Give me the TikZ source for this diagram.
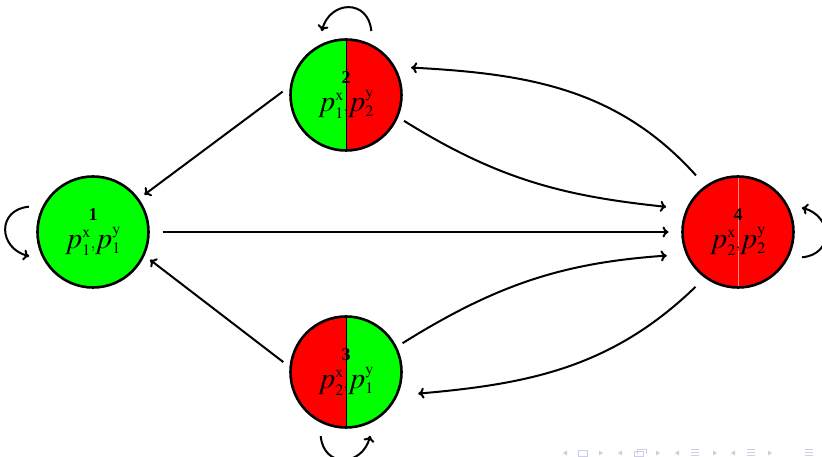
\documentclass[tikz,border=0pt]{standalone}
\usepackage{mathptmx}
\usepackage[no-math]{fontspec}
\setmainfont{Liberation Serif}
\DeclareMathSizes{30}{30}{16}{11}
\usetikzlibrary{arrows.meta}

\definecolor{stategreen}{RGB}{0,255,0}
\definecolor{statered}{RGB}{255,0,0}
\definecolor{navblue}{RGB}{205,205,232}

\begin{document}
\begin{tikzpicture}[x=1pt, y=1pt]
    \tikzset{
        statestyle/.style={circle, draw, line width=2.6pt, minimum size=111pt,
            inner sep=0pt, outer sep=8pt, align=center, font=\fontsize{30}{32}\selectfont},
        halfnode/.style n args={3}{path picture={
            \fill[#1] (path picture bounding box.south west) rectangle (path picture bounding box.north);
            \fill[#2] (path picture bounding box.south) rectangle (path picture bounding box.north east);
            \draw[#3, line width=0.6pt] (path picture bounding box.south) -- (path picture bounding box.north);
        }},
        edgestyle/.style={line width=2pt, -{To[length=6pt, width=11pt]}},
        navstyle/.style={fill=navblue, draw=none}
    }
    \newcommand{\statenum}[1]{{\fontsize{18}{18}\selectfont\bfseries #1}\\[-4pt]}
    \newcommand{\statepair}[2]{$p^{\mathrm{x}}_{#1}{\scriptstyle,}p^{\mathrm{y}}_{#2}$}
    \useasboundingbox (0,0) rectangle (822,457);

    % --- ETATS ---
    \node[statestyle, fill=stategreen] (s1) at (93,225)
        {\statenum{1}\statepair{1}{1}};
    \node[statestyle, halfnode={stategreen}{statered}{black}] (s2) at (346,362)
        {\statenum{2}\statepair{1}{2}};
    \node[statestyle, halfnode={statered}{stategreen}{black}] (s3) at (346,85)
        {\statenum{3}\statepair{2}{1}};
    \node[statestyle, halfnode={statered}{statered}{statered!45!white}] (s4) at (738,225)
        {\statenum{4}\statepair{2}{2}};

    % --- TRANSITIONS ---
    \draw[edgestyle] (s2.177) -- (s1.36);
    \draw[edgestyle] (s3.171) -- (s1.-26);
    \draw[edgestyle, shorten <=6pt, shorten >=6pt] (s1) -- (s4);
    \draw[edgestyle, shorten >=13pt] (s2.-24) to[out=-32, in=174] (s4.158);
    \draw[edgestyle, shorten <=7pt, shorten >=8pt] (s4.126) to[out=132, in=-3] (s2.26);
    \draw[edgestyle, shorten >=12pt] (s3.27) to[out=32, in=184] (s4.201);
    \draw[edgestyle, shorten <=6pt, shorten >=13pt] (s4.233) to[out=224, in=5] (s3.-21);

    % Boucles
    \draw[edgestyle, shorten <=6pt, shorten >=6pt] (s1.156) to[out=185, in=165, looseness=1.9] (s1.204);
    \draw[edgestyle, shorten <=6pt, shorten >=6pt] (s2.66) to[out=95, in=75, looseness=1.9] (s2.114);
    \draw[edgestyle, shorten <=6pt, shorten >=6pt] (s3.246) to[out=275, in=255, looseness=1.9] (s3.294);
    \draw[edgestyle, shorten <=6pt, shorten >=6pt] (s4.336) to[out=5, in=-15, looseness=1.9] (s4.24);

    % --- NAVIGATION ---
    \foreach \x in {565,620,677,733} {
        \fill[navstyle] (\x-2,4) -- (\x+2,6.5) -- (\x+2,1.5) -- cycle;
    }
    \foreach \x in {601,658,715,770} {
        \fill[navstyle] (\x+2,4) -- (\x-2,6.5) -- (\x-2,1.5) -- cycle;
    }
    \draw[navblue, line width=0.8pt] (578,1) rectangle (587,7);
    \draw[navblue, line width=0.8pt] (634,1) rectangle (643,6) (637,3) -- (637,8) -- (646,8) -- (646,3);
    \foreach \x in {695,751,809} {
        \fill[navstyle] (\x-4,7) rectangle (\x+4,8);
        \fill[navstyle] (\x-4,4) rectangle (\x+4,5);
        \fill[navstyle] (\x-4,1) rectangle (\x+4,2);
    }
\end{tikzpicture}
\end{document}
